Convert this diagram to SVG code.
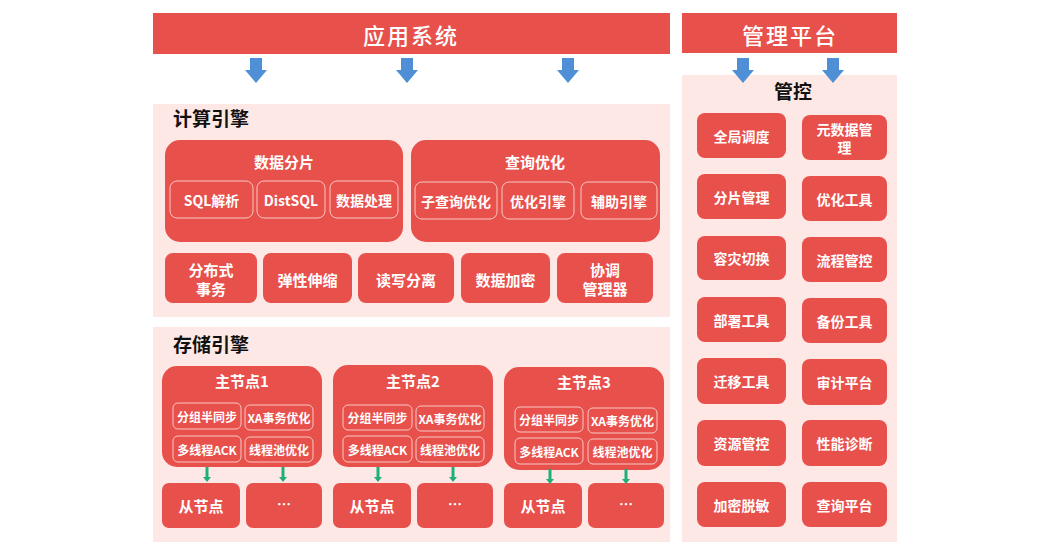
<svg xmlns="http://www.w3.org/2000/svg" width="1050" height="550" viewBox="0 0 1050 550">
<defs>
<style>
.bar{fill:#E8504B;}
.panel{fill:#FDE8E6;}
.box{fill:#E8504B;}
.inner{fill:#E8504B;stroke:#F8C9C6;stroke-width:1;}
.wt{fill:#FFFFFF;font-family:"Noto Sans CJK SC","Noto Sans",sans-serif;font-weight:700;text-anchor:middle;dominant-baseline:central;}
.bt{fill:#111111;font-family:"Noto Sans CJK SC","Noto Sans",sans-serif;font-weight:700;dominant-baseline:central;}
.big{font-size:22px;letter-spacing:2px;font-weight:500;}
.t16{font-size:15px;}
.t14{font-size:14px;}
.t12{font-size:12px;}
.title{font-size:19px;}
.blue{fill:#4E8FD6;}
.green{fill:#1FAF78;}
</style>
<polygon id="barrow" class="blue" points="-6,0 6,0 6,12 11,12 0,25 -11,12 -6,12"/>
<polygon id="garrow" class="green" points="-1.5,0 1.5,0 1.5,10 4,10 0,15 -4,10 -1.5,10"/>
</defs>
<rect width="1050" height="550" fill="#FFFFFF"/>

<g id="app-system">
<rect class="bar" x="153" y="13" width="517" height="41"/>
<text class="wt big" x="411" y="34">应用系统</text>
</g>

<g id="mgmt-platform">
<rect class="bar" x="682" y="13" width="215" height="40"/>
<text class="wt big" x="790" y="34">管理平台</text>
</g>

<g id="compute-engine">
<rect class="panel" x="153" y="104" width="517" height="213"/>
<text class="bt title" x="173" y="117">计算引擎</text>
</g>

<g id="data-sharding">
<rect class="box" x="165" y="140" width="238" height="102" rx="15"/>
<text class="wt t16" x="284" y="161">数据分片</text>
</g>
<g id="sql-parse"><rect class="inner" x="170" y="181" width="83" height="37" rx="7"/><text class="wt t14" x="211.5" y="199.5">SQL解析</text></g>
<g id="distsql"><rect class="inner" x="257" y="181" width="68" height="37" rx="7"/><text class="wt t14" x="291" y="199.5">DistSQL</text></g>
<g id="data-process"><rect class="inner" x="330" y="181" width="68" height="37" rx="7"/><text class="wt t14" x="364" y="199.5">数据处理</text></g>

<g id="query-opt">
<rect class="box" x="411" y="140" width="249" height="102" rx="15"/>
<text class="wt t16" x="535" y="161">查询优化</text>
</g>
<g id="subquery-opt"><rect class="inner" x="415" y="182" width="82" height="37" rx="7"/><text class="wt t14" x="456" y="200.5">子查询优化</text></g>
<g id="opt-engine"><rect class="inner" x="502" y="182" width="72" height="37" rx="7"/><text class="wt t14" x="538" y="200.5">优化引擎</text></g>
<g id="aux-engine"><rect class="inner" x="581" y="182" width="76" height="37" rx="7"/><text class="wt t14" x="619" y="200.5">辅助引擎</text></g>

<g id="dist-tx"><rect class="box" x="165" y="253" width="92" height="50" rx="8"/><text class="wt t16" x="211" y="269">分布式</text><text class="wt t16" x="211" y="288">事务</text></g>
<g id="elastic"><rect class="box" x="263" y="253" width="89" height="50" rx="8"/><text class="wt t16" x="307.5" y="279">弹性伸缩</text></g>
<g id="rw-split"><rect class="box" x="358" y="253" width="96" height="50" rx="8"/><text class="wt t16" x="406" y="279">读写分离</text></g>
<g id="encrypt"><rect class="box" x="461" y="253" width="89" height="50" rx="8"/><text class="wt t16" x="505.5" y="279">数据加密</text></g>
<g id="coord"><rect class="box" x="557" y="253" width="96" height="50" rx="8"/><text class="wt t16" x="605" y="269">协调</text><text class="wt t16" x="605" y="288">管理器</text></g>

<g id="storage-engine">
<rect class="panel" x="153" y="327" width="517" height="215"/>
<text class="bt title" x="173" y="343">存储引擎</text>
</g>

<g id="master1">
<rect class="box" x="162" y="366" width="160" height="101" rx="15"/>
<text class="wt t16" x="242" y="380">主节点1</text>
<rect class="inner" x="173" y="403" width="68" height="26" rx="5"/><text class="wt t12" x="207" y="416">分组半同步</text>
<rect class="inner" x="245" y="405" width="68" height="25" rx="5"/><text class="wt t12" x="279" y="417.5">XA事务优化</text>
<rect class="inner" x="173" y="436" width="68" height="26" rx="5"/><text class="wt t12" x="207" y="449">多线程ACK</text>
<rect class="inner" x="245" y="437" width="68" height="25" rx="5"/><text class="wt t12" x="279" y="449.5">线程池优化</text>
</g>
<g id="master2">
<rect class="box" x="333" y="365" width="160" height="102" rx="15"/>
<text class="wt t16" x="413" y="380">主节点2</text>
<rect class="inner" x="343" y="405" width="69" height="25" rx="5"/><text class="wt t12" x="377.5" y="417.5">分组半同步</text>
<rect class="inner" x="416" y="406" width="68" height="25" rx="5"/><text class="wt t12" x="450" y="418.5">XA事务优化</text>
<rect class="inner" x="343" y="436" width="69" height="26" rx="5"/><text class="wt t12" x="377.5" y="449">多线程ACK</text>
<rect class="inner" x="416" y="437" width="68" height="25" rx="5"/><text class="wt t12" x="450" y="449.5">线程池优化</text>
</g>
<g id="master3">
<rect class="box" x="504" y="367" width="160" height="103" rx="15"/>
<text class="wt t16" x="584" y="381">主节点3</text>
<rect class="inner" x="515" y="407" width="68" height="25" rx="5"/><text class="wt t12" x="549" y="419.5">分组半同步</text>
<rect class="inner" x="588" y="408" width="69" height="25" rx="5"/><text class="wt t12" x="622.5" y="420.5">XA事务优化</text>
<rect class="inner" x="515" y="438" width="68" height="26" rx="5"/><text class="wt t12" x="549" y="451">多线程ACK</text>
<rect class="inner" x="588" y="439" width="69" height="25" rx="5"/><text class="wt t12" x="622.5" y="451.5">线程池优化</text>
</g>

<g id="slave1a"><rect class="box" x="162" y="483" width="78" height="45" rx="7"/><text class="wt t16" x="201" y="505.5">从节点</text></g>
<g id="slave1b"><rect class="box" x="246" y="483" width="76" height="45" rx="7"/><text class="wt t14" x="284" y="503">…</text></g>
<g id="slave2a"><rect class="box" x="333" y="483" width="78" height="45" rx="7"/><text class="wt t16" x="372" y="505.5">从节点</text></g>
<g id="slave2b"><rect class="box" x="417" y="483" width="76" height="45" rx="7"/><text class="wt t14" x="455" y="503">…</text></g>
<g id="slave3a"><rect class="box" x="504" y="483" width="78" height="45" rx="7"/><text class="wt t16" x="543" y="505.5">从节点</text></g>
<g id="slave3b"><rect class="box" x="588" y="483" width="76" height="45" rx="7"/><text class="wt t14" x="626" y="503">…</text></g>

<g id="control">
<rect class="panel" x="682" y="75" width="215" height="467"/>
<text class="bt title" x="793" y="90" text-anchor="middle">管控</text>
</g>

<g id="global-sched"><rect class="box" x="697" y="113" width="89" height="45" rx="8"/><text class="wt t14" x="741.5" y="135.5">全局调度</text></g>
<g id="meta-mgmt"><rect class="box" x="802" y="115" width="85" height="45" rx="8"/><text class="wt t14" x="844.5" y="129">元数据管</text><text class="wt t14" x="844.5" y="147">理</text></g>
<g id="shard-mgmt"><rect class="box" x="697" y="174" width="89" height="45" rx="8"/><text class="wt t14" x="741.5" y="196.5">分片管理</text></g>
<g id="opt-tool"><rect class="box" x="802" y="176" width="85" height="45" rx="8"/><text class="wt t14" x="844.5" y="198.5">优化工具</text></g>
<g id="dr-switch"><rect class="box" x="697" y="236" width="89" height="44" rx="8"/><text class="wt t14" x="741.5" y="258">容灾切换</text></g>
<g id="flow-ctrl"><rect class="box" x="802" y="237" width="85" height="45" rx="8"/><text class="wt t14" x="844.5" y="259.5">流程管控</text></g>
<g id="deploy-tool"><rect class="box" x="697" y="297" width="89" height="45" rx="8"/><text class="wt t14" x="741.5" y="319.5">部署工具</text></g>
<g id="backup-tool"><rect class="box" x="802" y="298" width="85" height="45" rx="8"/><text class="wt t14" x="844.5" y="320.5">备份工具</text></g>
<g id="migrate-tool"><rect class="box" x="697" y="358" width="89" height="46" rx="8"/><text class="wt t14" x="741.5" y="381">迁移工具</text></g>
<g id="audit"><rect class="box" x="802" y="359" width="85" height="46" rx="8"/><text class="wt t14" x="844.5" y="382">审计平台</text></g>
<g id="resource"><rect class="box" x="697" y="420" width="89" height="46" rx="8"/><text class="wt t14" x="741.5" y="443">资源管控</text></g>
<g id="perf"><rect class="box" x="802" y="420" width="85" height="46" rx="8"/><text class="wt t14" x="844.5" y="443">性能诊断</text></g>
<g id="mask"><rect class="box" x="697" y="482" width="89" height="45" rx="8"/><text class="wt t14" x="741.5" y="504.5">加密脱敏</text></g>
<g id="query-platform"><rect class="box" x="802" y="482" width="85" height="45" rx="8"/><text class="wt t14" x="844.5" y="504.5">查询平台</text></g>

<g id="connectors">
<use href="#barrow" x="256" y="58"/>
<use href="#barrow" x="407" y="58"/>
<use href="#barrow" x="568" y="58"/>
<use href="#barrow" x="743" y="58"/>
<use href="#barrow" x="833" y="58"/>
<use href="#garrow" x="207" y="467"/>
<use href="#garrow" x="283" y="467"/>
<use href="#garrow" x="378" y="467"/>
<use href="#garrow" x="453" y="467"/>
<use href="#garrow" x="550" y="469"/>
<use href="#garrow" x="626" y="469"/>
</g>
</svg>
